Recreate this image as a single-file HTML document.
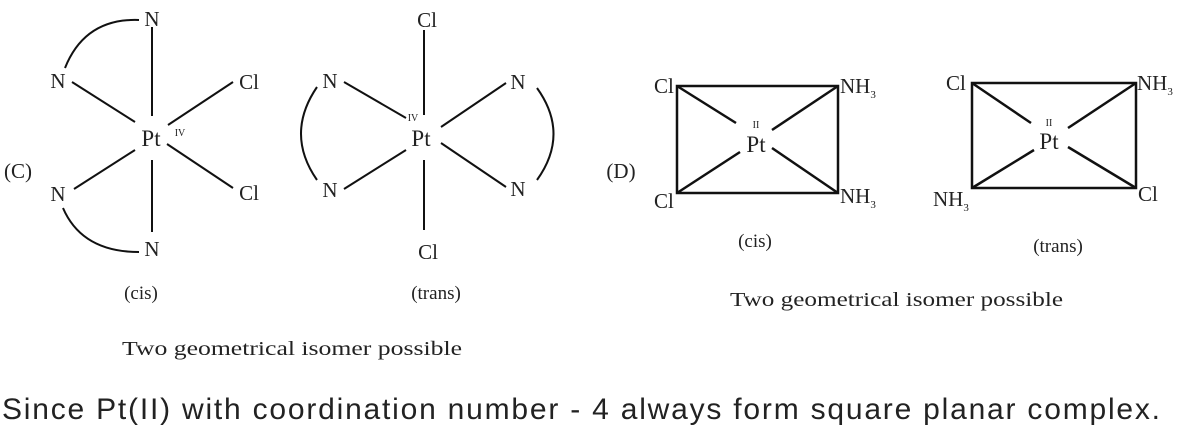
<!DOCTYPE html>
<html><head><meta charset="utf-8"><style>
html,body{margin:0;padding:0;background:#fff;}
svg{display:block;}
text{font-family:"Liberation Serif",serif;fill:#222;}
</style></head><body>
<svg width="1177" height="431" viewBox="0 0 1177 431" xmlns="http://www.w3.org/2000/svg">
<g stroke="#111" stroke-width="2" fill="none">
<line x1="152" y1="27" x2="152" y2="116"/>
<line x1="152" y1="160" x2="152" y2="232"/>
<line x1="72" y1="82" x2="135" y2="122"/>
<line x1="168" y1="125" x2="233" y2="82"/>
<line x1="74" y1="189" x2="135" y2="150"/>
<line x1="167" y1="144" x2="233" y2="188"/>
<path d="M65,68 Q85,18 139,20"/>
<path d="M63,208 Q82,252 139,252"/>
<line x1="424" y1="30" x2="424" y2="115"/>
<line x1="424" y1="160" x2="424" y2="230"/>
<line x1="344" y1="82" x2="406" y2="118"/>
<line x1="344" y1="189" x2="406" y2="150"/>
<line x1="441" y1="127" x2="506" y2="83"/>
<line x1="441" y1="143" x2="506" y2="187"/>
<path d="M317,87 Q285,134 317,180"/>
<path d="M537,88 Q570,134 537,180"/>
</g>
<g stroke="#111" stroke-width="2.5" fill="none">
<rect x="677" y="86" width="161" height="107"/>
<line x1="677" y1="86" x2="736" y2="123"/>
<line x1="838" y1="86" x2="772" y2="130"/>
<line x1="677" y1="193" x2="740" y2="152"/>
<line x1="838" y1="193" x2="772" y2="148"/>
<rect x="972" y="83" width="164" height="105"/>
<line x1="972" y1="83" x2="1031" y2="123"/>
<line x1="1136" y1="83" x2="1068" y2="128"/>
<line x1="972" y1="188" x2="1034" y2="150"/>
<line x1="1136" y1="188" x2="1068" y2="147"/>
</g>
<g font-size="21" text-anchor="middle">
<text x="152" y="26">N</text>
<text x="58" y="88">N</text>
<text x="249" y="89">Cl</text>
<text x="151" y="146" font-size="23">Pt</text>
<text x="58" y="201">N</text>
<text x="249" y="200">Cl</text>
<text x="152" y="256">N</text>
<text x="18" y="178">(C)</text>
<text x="427" y="27">Cl</text>
<text x="330" y="88">N</text>
<text x="330" y="197">N</text>
<text x="518" y="89">N</text>
<text x="518" y="196">N</text>
<text x="421" y="146" font-size="23">Pt</text>
<text x="428" y="259">Cl</text>
<text x="621" y="178">(D)</text>
<text x="756" y="152" font-size="23">Pt</text>
<text x="1049" y="149" font-size="23">Pt</text>
</g>
<g font-size="10" text-anchor="middle">
<text x="180" y="136">IV</text>
<text x="413" y="121">IV</text>
<text x="756" y="128">II</text>
<text x="1049" y="126">II</text>
</g>
<g font-size="21">
<text x="654" y="93">Cl</text>
<text x="654" y="208">Cl</text>
<text x="840" y="93">NH<tspan font-size="11" dy="5">3</tspan></text>
<text x="840" y="203">NH<tspan font-size="11" dy="5">3</tspan></text>
<text x="946" y="90">Cl</text>
<text x="1137" y="90">NH<tspan font-size="11" dy="5">3</tspan></text>
<text x="933" y="206">NH<tspan font-size="11" dy="5">3</tspan></text>
<text x="1138" y="201">Cl</text>
</g>
<g font-size="19" text-anchor="middle">
<text x="141" y="299">(cis)</text>
<text x="436" y="299">(trans)</text>
<text x="755" y="247">(cis)</text>
<text x="1058" y="252">(trans)</text>
</g>
<text x="122" y="355" font-size="20" textLength="340" lengthAdjust="spacingAndGlyphs">Two geometrical isomer possible</text>
<text x="730" y="306" font-size="20" textLength="333" lengthAdjust="spacingAndGlyphs">Two geometrical isomer possible</text>
<text x="2" y="419" font-size="30" style="font-family:'Liberation Sans',sans-serif" textLength="1158">Since Pt(II) with coordination number - 4 always form square planar complex.</text>
</svg>
</body></html>
